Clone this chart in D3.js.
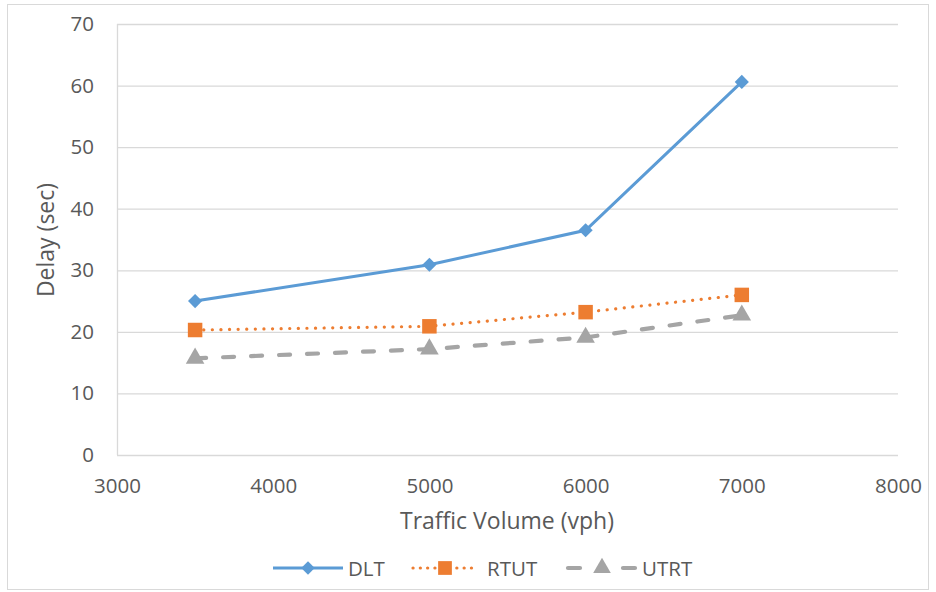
<!DOCTYPE html>
<html><head><meta charset="utf-8">
<script src="https://cdn.jsdelivr.net/npm/d3@7"></script>
<style>body{margin:0;background:#fff}svg{display:block}text{font-family:"Open Sans","Noto Sans",sans-serif;fill:#595959}</style>
</head><body><svg id="c" width="936" height="592"></svg>
<script>
const volumes = [3500, 5000, 6000, 7000];
const dlt = [25.0, 30.9, 36.5, 60.6];
const rtut = [20.3, 20.9, 23.2, 26.0];
const utrt = [15.7, 17.2, 19.1, 22.7];
const xTicks = [3000, 4000, 5000, 6000, 7000, 8000];
const yTicks = [0, 10, 20, 30, 40, 50, 60, 70];
const seriesNames = ["DLT", "RTUT", "UTRT"];

const svg = d3.select("#c");
svg.append("rect").attr("x",7.5).attr("y",4.5).attr("width",921).attr("height",585)
  .attr("fill","#fff").attr("stroke","#d9d9d9");
const x = d3.scaleLinear().domain([3000,8000]).range([117,898]);
const y = d3.scaleLinear().domain([0,70]).range([455,24]);

svg.append("g").selectAll("line").data(yTicks).join("line")
  .attr("x1",117).attr("x2",898).attr("y1",d=>y(d)+0.5).attr("y2",d=>y(d)+0.5)
  .attr("stroke","#d9d9d9").attr("stroke-width",1.3);
svg.append("line").attr("x1",117.5).attr("x2",117.5).attr("y1",24).attr("y2",455)
  .attr("stroke","#d9d9d9").attr("stroke-width",1.3);

const yAxis = d3.axisLeft(y).tickValues(yTicks).tickSize(0).tickPadding(23);
const gy = svg.append("g").attr("transform","translate(117,0)").call(yAxis);
gy.select(".domain").remove();
gy.attr("font-size",null).attr("font-family",null);
gy.selectAll("text").style("font-size","20.5px").style("fill","#595959");
const xAxis = d3.axisBottom(x).tickValues(xTicks).tickSize(0).tickPadding(23).tickFormat(d3.format("d"));
const gx = svg.append("g").attr("transform","translate(0,455)").call(xAxis);
gx.select(".domain").remove();
gx.attr("font-size",null).attr("font-family",null);
gx.selectAll("text").style("font-size","20.5px").style("fill","#595959");

svg.append("text").attr("x",507).attr("y",529).attr("text-anchor","middle").style("font-size","23px").text("Traffic Volume (vph)");
svg.append("text").attr("transform","translate(54,240) rotate(-90)").attr("text-anchor","middle").style("font-size","23px").text("Delay (sec)");

const diamond = {draw(ctx, size){const r=Math.sqrt(size/2);ctx.moveTo(0,-r);ctx.lineTo(r,0);ctx.lineTo(0,r);ctx.lineTo(-r,0);ctx.closePath();}};
const series = [
  {name:seriesNames[0], vals:dlt, color:"#5b9bd5", dash:null, width:3, shape:diamond, size:100},
  {name:seriesNames[1], vals:rtut, color:"#ed7d31", dash:"0.1 8.5", width:3.2, shape:d3.symbolSquare, size:210},
  {name:seriesNames[2], vals:utrt, color:"#a5a5a5", dash:"11 17", width:4.2, shape:d3.symbolTriangle, size:150}
];
const line = d3.line().x((d,i)=>x(volumes[i])).y(d=>y(d));
series.forEach(s=>{
  svg.append("path").datum(s.vals).attr("d",line).attr("fill","none")
    .attr("stroke",s.color).attr("stroke-width",s.width)
    .attr("stroke-dasharray",s.dash).attr("stroke-linecap",s.dash?"round":"butt");
  svg.append("g").selectAll("path").data(s.vals).join("path")
    .attr("transform",(d,i)=>`translate(${x(volumes[i])},${y(d)})`)
    .attr("d",d3.symbol(s.shape,s.size)).attr("fill",s.color);
});

const leg = [{x0:273,x1:343,tx:348},{x0:413,x1:477,tx:487},{x0:568,x1:636,tx:642}];
const legDash = [null,"0.1 7.2","12 43"];
series.forEach((s,i)=>{
  const L=leg[i];
  svg.append("line").attr("x1",L.x0).attr("x2",L.x1).attr("y1",568).attr("y2",568)
    .attr("stroke",s.color).attr("stroke-width",s.width).attr("stroke-dasharray",legDash[i])
    .attr("stroke-linecap",legDash[i]?"round":"butt");
  svg.append("path").attr("transform",`translate(${(L.x0+L.x1)/2},568)`)
    .attr("d",d3.symbol(s.shape,s.size*0.9)).attr("fill",s.color);
  svg.append("text").attr("x",L.tx).attr("y",575.5).style("font-size","20.5px").text(s.name);
});
</script></body></html>
